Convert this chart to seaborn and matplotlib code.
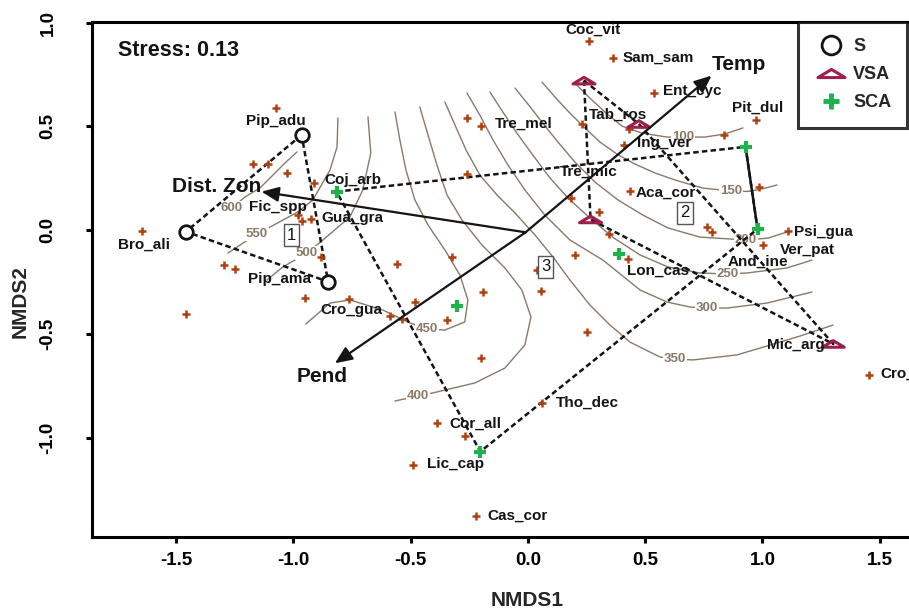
import matplotlib
matplotlib.use("Agg")
import matplotlib.pyplot as plt
import seaborn as sns
import pandas as pd
from matplotlib.path import Path
from matplotlib.lines import Line2D

# ---------------- data ----------------
species_x = [-1.075, -1.171, -1.107, -1.028, -0.913, -0.979, -0.964, -0.925, -0.884, -1.296,
             -1.249, -0.951, -0.762, -1.456, -1.647, -0.557, -0.323, -0.482, -0.588, -0.537,
             -0.344, -0.191, -0.202, -0.389, -0.269, -0.492, -0.222, -0.258, -0.198, -0.258,
             0.232, 0.261, 0.364, 0.536, 0.408, 0.433, 0.435, 0.182, 0.305, 0.347,
             0.200, 0.428, 0.037, 0.057, 0.250, 0.061, 0.836, 0.974, 0.985, 0.765,
             0.786, 1.107, 1.003, 1.456]
species_y = [0.587, 0.320, 0.320, 0.273, 0.228, 0.070, 0.043, 0.054, -0.129, -0.170,
             -0.190, -0.328, -0.333, -0.406, -0.005, -0.164, -0.129, -0.348, -0.413, -0.430,
             -0.434, -0.300, -0.615, -0.932, -0.993, -1.133, -1.378, 0.538, 0.501, 0.271,
             0.513, 0.912, 0.831, 0.659, 0.412, 0.489, 0.186, 0.156, 0.085, -0.020,
             -0.118, -0.142, -0.195, -0.296, -0.490, -0.834, 0.458, 0.528, 0.206, 0.016,
             -0.010, -0.005, -0.072, -0.699]

label_names = ["Coc_vit", "Sam_sam", "Ent_cyc", "Pit_dul", "Tab_ros", "Tre_mel", "Ing_ver",
               "Tre_mic", "Aca_cor", "Psi_gua", "Ver_pat", "And_ine", "Lon_cas", "Mic_arg",
               "Cro_", "Tho_dec", "Cor_all", "Lic_cap", "Cas_cor", "Cro_gua", "Pip_ama",
               "Pip_adu", "Bro_ali", "Fic_spp", "Gua_gra", "Coj_arb"]
label_x = [0.277, 0.405, 0.576, 0.870, 0.260, -0.141, 0.465, 0.136, 0.461, 1.134, 1.075, 0.853,
           0.422, 1.019, 1.501, 0.119, -0.337, -0.431, -0.171, -0.887, -1.194, -1.200, -1.748,
           -1.190, -0.880, -0.866]
label_y = [0.964, 0.830, 0.671, 0.591, 0.554, 0.511, 0.419, 0.280, 0.180, -0.008, -0.096, -0.153,
           -0.196, -0.554, -0.694, -0.832, -0.932, -1.129, -1.378, -0.386, -0.238, 0.527, -0.072,
           0.112, 0.056, 0.241]

S_x = [-0.965, -1.458, -0.852]
S_y = [0.458, -0.008, -0.249]
VSA_x = [0.239, 0.473, 0.267, 1.302]
VSA_y = [0.720, 0.511, 0.051, -0.549]
SCA_x = [-0.816, -0.303, -0.203, 0.389, 0.928, 0.979]
SCA_y = [0.185, -0.365, -1.068, -0.116, 0.401, 0.005]

S_hull = [0, 1, 2, 0]
VSA_hull = [0, 1, 3, 2, 0]
SCA_hull = [0, 4, 5, 2, 0]

vector_names = ["Temp", "Dist. Zon", "Pend"]
vector_x = [0.783, -1.136, -0.823]
vector_y = [0.744, 0.185, -0.642]
vector_origin = (-0.010, -0.011)
vector_label_x = [0.783, -1.519, -0.986]
vector_label_y = [0.800, 0.209, -0.704]

contour_levels = [100, 150, 200, 250, 300, 350, 400, 450, 500, 550, 600]
c100_x = [0.200, 0.264, 0.333, 0.401, 0.486, 0.593, 0.661, 0.755, 0.840, 0.917]
c100_y = [0.708, 0.636, 0.564, 0.501, 0.467, 0.448, 0.448, 0.448, 0.463, 0.492]
c150_x = [0.060, 0.119, 0.171, 0.239, 0.307, 0.380, 0.456, 0.542, 0.627, 0.746, 0.866, 0.938, 0.998, 1.062]
c150_y = [0.713, 0.636, 0.573, 0.496, 0.424, 0.366, 0.318, 0.275, 0.241, 0.202, 0.188, 0.186, 0.198, 0.217]
c200_x = [-0.055, 0.000, 0.060, 0.128, 0.200, 0.286, 0.384, 0.490, 0.597, 0.733, 0.930, 1.023, 1.104]
c200_y = [0.684, 0.607, 0.520, 0.424, 0.328, 0.231, 0.145, 0.072, 0.010, -0.034, -0.048, -0.039, -0.010]
c250_x = [-0.162, -0.107, -0.047, 0.021, 0.094, 0.171, 0.264, 0.367, 0.478, 0.597, 0.733, 0.853, 0.934, 1.104, 1.211]
c250_y = [0.665, 0.569, 0.467, 0.361, 0.251, 0.154, 0.058, -0.039, -0.120, -0.178, -0.207, -0.212, -0.207, -0.183, -0.145]
c300_x = [-0.260, -0.205, -0.149, -0.085, -0.013, 0.072, 0.179, 0.320, 0.478, 0.593, 0.691, 0.763, 0.849, 1.019, 1.211]
c300_y = [0.660, 0.554, 0.434, 0.313, 0.193, 0.072, -0.048, -0.145, -0.289, -0.347, -0.371, -0.376, -0.376, -0.352, -0.299]
c350_x = [-0.354, -0.311, -0.264, -0.205, -0.132, -0.055, 0.030, 0.107, 0.179, 0.264, 0.350, 0.435, 0.563, 0.627, 0.704, 0.891, 1.019, 1.160, 1.301]
c350_y = [0.617, 0.506, 0.386, 0.265, 0.169, 0.082, -0.024, -0.130, -0.241, -0.361, -0.458, -0.540, -0.612, -0.622, -0.626, -0.602, -0.559, -0.511, -0.458]
c400_x = [-0.461, -0.426, -0.388, -0.345, -0.281, -0.196, -0.098, -0.026, 0.013, -0.013, -0.098, -0.226, -0.405, -0.469, -0.567]
c400_y = [0.593, 0.458, 0.313, 0.169, 0.048, -0.072, -0.183, -0.289, -0.419, -0.554, -0.665, -0.737, -0.785, -0.800, -0.824]
c450_x = [-0.567, -0.546, -0.520, -0.482, -0.426, -0.354, -0.290, -0.256, -0.269, -0.354, -0.431, -0.503, -0.618, -0.759, -0.844, -0.947]
c450_y = [0.569, 0.434, 0.289, 0.145, 0.024, -0.096, -0.217, -0.337, -0.443, -0.482, -0.477, -0.448, -0.386, -0.337, -0.352, -0.453]
c500_x = [-0.682, -0.670, -0.704, -0.759, -0.874, -0.942, -1.045, -1.113]
c500_y = [0.545, 0.371, 0.193, 0.063, -0.048, -0.111, -0.178, -0.241]
c550_x = [-0.810, -0.814, -0.844, -0.917, -0.981, -1.100, -1.156, -1.279]
c550_y = [0.540, 0.400, 0.289, 0.145, 0.087, 0.014, -0.019, -0.111]
c600_x = [-0.985, -1.036, -1.087, -1.143, -1.207, -1.262]
c600_y = [0.376, 0.323, 0.265, 0.202, 0.159, 0.106]
contour_label_x = [0.661, 0.866, 0.930, 0.853, 0.763, 0.627, -0.469, -0.431, -0.942, -1.156, -1.262]
contour_label_y = [0.448, 0.188, -0.048, -0.212, -0.376, -0.622, -0.800, -0.477, -0.111, -0.019, 0.106]

cluster_names = ["1", "2", "3"]
cluster_x = [-1.008, 0.670, 0.075]
cluster_y = [-0.024, 0.083, -0.177]

xticks = [-1.5, -1.0, -0.5, 0.0, 0.5, 1.0, 1.5]
xtick_labels = ["-1.5", "-1.0", "-0.5", "0.0", "0.5", "1.0", "1.5"]
yticks = [-1.0, -0.5, 0.0, 0.5, 1.0]
ytick_labels = ["-1.0", "-0.5", "0.0", "0.5", "1.0"]
stress_text = "Stress: 0.13"

# ---------------- style ----------------
sns.set_theme(style="white")
plt.rcParams['font.family'] = ['Liberation Sans', 'DejaVu Sans']
plt.rcParams['axes.unicode_minus'] = False

W, H = 909, 614
fig = plt.figure(figsize=(W / 100, H / 100), dpi=100)
ax = fig.add_axes([91.7 / W, 1 - 536.7 / H, (914.9 - 91.7) / W, (536.7 - 21.7) / H])
ax.set_xlim(-1.86, 1.65)
ax.set_ylim(-1.478, 1.004)

sp_color = "#b0400f"
vsa_color = "#9e1f4c"
sca_color = "#1fb14c"
cont_color = "#8b7967"
ink = "#141414"

# contours
contour_xs = [c100_x, c150_x, c200_x, c250_x, c300_x, c350_x, c400_x, c450_x, c500_x, c550_x, c600_x]
contour_ys = [c100_y, c150_y, c200_y, c250_y, c300_y, c350_y, c400_y, c450_y, c500_y, c550_y, c600_y]
for lvl, xs, ys, lx, ly in zip(contour_levels, contour_xs, contour_ys, contour_label_x, contour_label_y):
    ax.plot(xs, ys, color=cont_color, lw=1.0, zorder=1, solid_joinstyle='round')
    ax.text(lx, ly, str(lvl), color=cont_color, fontsize=9.5, fontweight='bold', ha='center',
            va='center', zorder=2,
            bbox=dict(boxstyle='square,pad=0.08', fc='white', ec='none'))

# hulls
dash = (0, (2.2, 1.3))
ax.plot([S_x[i] for i in S_hull], [S_y[i] for i in S_hull], color=ink, lw=1.8, ls=dash, zorder=3)
ax.plot([VSA_x[i] for i in VSA_hull], [VSA_y[i] for i in VSA_hull], color=ink, lw=1.8, ls=dash, zorder=3)
ax.plot([SCA_x[i] for i in SCA_hull], [SCA_y[i] for i in SCA_hull], color=ink, lw=1.8, ls=dash, zorder=3)
ax.plot([SCA_x[4], SCA_x[5]], [SCA_y[4], SCA_y[5]], color=ink, lw=1.8, ls='-', zorder=3)

# species points
sp_df = pd.DataFrame({"NMDS1": species_x, "NMDS2": species_y})
sns.scatterplot(data=sp_df, x="NMDS1", y="NMDS2", marker='+', color=sp_color, s=30,
                linewidth=1.8, ax=ax, zorder=4, legend=False)

# sites
tri = Path([(-1, -0.3), (1, -0.3), (0, 0.3), (-1, -0.3)],
           [Path.MOVETO, Path.LINETO, Path.LINETO, Path.CLOSEPOLY])
ax.scatter(S_x, S_y, marker='o', facecolors='white', edgecolors=ink, linewidths=2.0, s=95, zorder=5)
ax.scatter(VSA_x, VSA_y, marker=tri, facecolors='none', edgecolors=vsa_color, linewidths=2.2, s=250, zorder=5)
sca_df = pd.DataFrame({"NMDS1": SCA_x, "NMDS2": SCA_y})
sns.scatterplot(data=sca_df, x="NMDS1", y="NMDS2", marker='+', color=sca_color, s=85,
                linewidth=3.0, ax=ax, zorder=5, legend=False)

# vectors
for name, vx, vy, lx, ly in zip(vector_names, vector_x, vector_y, vector_label_x, vector_label_y):
    ax.annotate('', xy=(vx, vy), xytext=vector_origin, zorder=6,
                arrowprops=dict(arrowstyle='-|>,head_length=0.65,head_width=0.28', color=ink,
                                lw=1.6, shrinkA=0, shrinkB=0, mutation_scale=16))
    ax.text(lx, ly, name, fontsize=15, fontweight='bold', color=ink, ha='left', va='center', zorder=7)

# species labels
for n, lx, ly in zip(label_names, label_x, label_y):
    ha = 'center' if n == "Coc_vit" else 'left'
    ax.text(lx, ly, n, fontsize=11, fontweight='bold', color=ink, ha=ha, va='center', zorder=7)

# cluster boxes
for n, cx, cy in zip(cluster_names, cluster_x, cluster_y):
    ax.text(cx, cy, n, fontsize=12, color=ink, ha='center', va='center', zorder=7,
            bbox=dict(boxstyle='square,pad=0.2', fc='white', ec='#555555', lw=1.0))

ax.text(-1.747, 0.867, stress_text, fontsize=15.5, fontweight='bold', color=ink, ha='left', va='center')

# axes styling
for s in ax.spines.values():
    s.set_linewidth(2.2)
    s.set_color('black')
ax.set_xticks(xticks)
ax.set_xticklabels(xtick_labels, fontsize=13.5, fontweight='bold')
ax.set_yticks(yticks)
ax.set_yticklabels(ytick_labels, fontsize=13.5, fontweight='bold', rotation=90, va='center')
ax.tick_params(axis='x', direction='out', length=4.3, width=2.2, pad=6.5, bottom=True, colors='black')
ax.tick_params(axis='y', direction='out', length=4.3, width=2.2, pad=21, left=True, colors='black')
ax.set_xlabel("NMDS1", fontsize=15, fontweight='bold')
ax.set_ylabel("NMDS2", fontsize=15, fontweight='bold')
ax.xaxis.set_label_coords(527 / W, 1 - 600 / H, transform=fig.transFigure)
ax.yaxis.set_label_coords(20 / W, 1 - 302 / H, transform=fig.transFigure)
ax.xaxis.label.set_va('center')
ax.yaxis.label.set_va('center')

# legend
handles = [Line2D([], [], ls='none', marker='o', mfc='none', mec=ink, mew=2.0, ms=13.5),
           Line2D([], [], ls='none', marker=tri, mfc='none', mec=vsa_color, mew=2.2, ms=19.5),
           Line2D([], [], ls='none', marker='+', color=sca_color, mew=3.5, ms=12)]
leg = ax.legend(handles, ['S', 'VSA', 'SCA'], loc='upper left',
                bbox_to_anchor=(798 / W, 1 - 21.7 / H), bbox_transform=fig.transFigure,
                frameon=True, fancybox=False, borderpad=0.9, labelspacing=0.62,
                handlelength=1.8, handletextpad=0.35, borderaxespad=0,
                prop={'weight': 'bold', 'size': 13})
leg.get_frame().set_edgecolor('black')
leg.get_frame().set_linewidth(2.2)
leg.set_zorder(10)

fig.savefig("out.png", dpi=100)
